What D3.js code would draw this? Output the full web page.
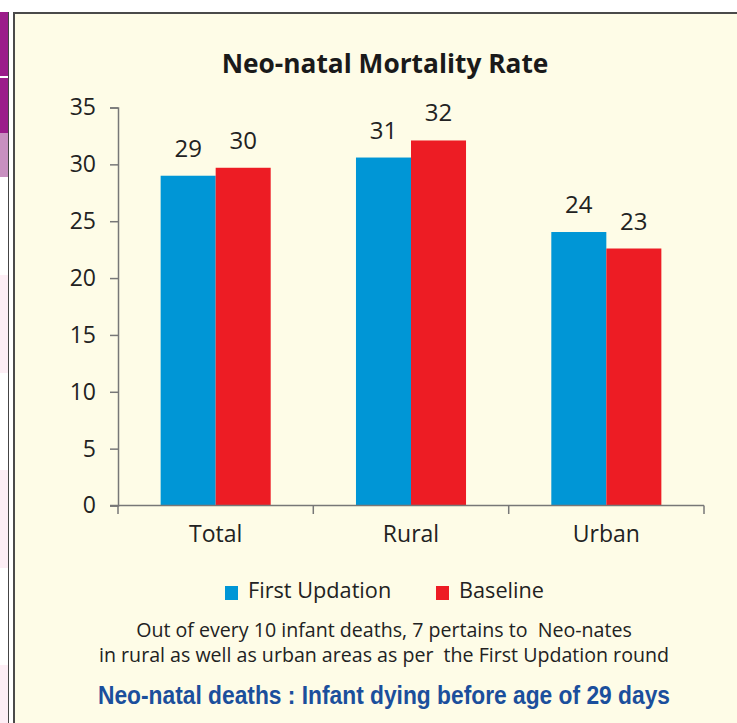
<!DOCTYPE html>
<html lang="en">
<head>
<meta charset="UTF-8">
<title>Neo-natal Mortality Rate</title>
<style>
  body { margin: 0; padding: 0; background: #fff; }
  svg { display: block; }
</style>
</head>
<body>
<svg width="737" height="723"></svg>
<script src="https://d3js.org/d3.v7.min.js"></script>
<script>
  // chart data
  const categories = ["Total", "Rural", "Urban"];
  const seriesNames = ["First Updation", "Baseline"];
  const firstUpdation = [29, 30.6, 24.05];
  const baseline = [29.7, 32.1, 22.6];
  const valueLabels = [[29, 31, 24], [30, 32, 23]];
  const yTicks = [0, 5, 10, 15, 20, 25, 30, 35];
  const colors = ["#0096d6", "#ed1c24"];

  const svg = d3.select("svg");
  const font = "'Open Sans', sans-serif";

  // left page strip, bits of the neighbouring page
  svg.append("rect").attr("x", 0).attr("y", 12).attr("width", 8).attr("height", 121).attr("fill", "#9b1d8a");
  svg.append("rect").attr("x", 0).attr("y", 76).attr("width", 8).attr("height", 2).attr("fill", "#fff");
  svg.append("rect").attr("x", 0).attr("y", 133).attr("width", 8).attr("height", 44).attr("fill", "#c890c0");
  [[275, 98], [470, 98], [665, 58]].forEach(p => {
    svg.append("rect").attr("x", 0).attr("y", p[0]).attr("width", 8).attr("height", p[1]).attr("fill", "#fdeef5");
  });
  svg.append("line").attr("x1", 8.5).attr("x2", 8.5).attr("y1", 12).attr("y2", 723).attr("stroke", "#444").attr("stroke-width", 1);

  // panel
  svg.append("rect").attr("x", 14).attr("y", 13).attr("width", 730).attr("height", 720)
    .attr("fill", "#fefce7").attr("stroke", "#4a4a4a").attr("stroke-width", 2);

  const x0 = d3.scaleBand().domain(categories).range([118, 704]).padding(0);
  const x1 = d3.scaleBand().domain(seriesNames).range([0, x0.bandwidth()]).paddingInner(0).paddingOuter(0.775);
  const y = d3.scaleLinear().domain([0, 35]).range([505.5, 107.5]);

  svg.append("text").attr("x", 385).attr("y", 73).attr("text-anchor", "middle")
    .attr("font-family", font).attr("font-weight", "bold").attr("font-size", 26.3).attr("fill", "#1a1a1a")
    .text("Neo-natal Mortality Rate");

  // y axis
  const yAxis = svg.append("g").attr("transform", "translate(118,0)")
    .call(d3.axisLeft(y).tickValues(yTicks).tickSize(8).tickPadding(14));
  yAxis.select(".domain").attr("stroke", "#777").attr("stroke-width", 1.5);
  yAxis.selectAll(".tick line").attr("stroke", "#777").attr("stroke-width", 1.5);
  yAxis.selectAll("text").attr("font-family", font).attr("font-size", 23).attr("fill", "#222");

  // bars
  const series = [firstUpdation, baseline];
  series.forEach((vals, s) => {
    svg.append("g").selectAll("rect").data(vals).join("rect")
      .attr("x", (d, i) => x0(categories[i]) + x1(seriesNames[s]))
      .attr("y", d => y(d))
      .attr("width", x1.bandwidth())
      .attr("height", d => y(0) - y(d))
      .attr("fill", colors[s]);
    svg.append("g").selectAll("text").data(vals).join("text")
      .attr("x", (d, i) => x0(categories[i]) + x1(seriesNames[s]) + x1.bandwidth() / 2)
      .attr("y", d => y(d) - 19)
      .attr("text-anchor", "middle")
      .attr("font-family", font).attr("font-size", 24).attr("fill", "#222")
      .text((d, i) => valueLabels[s][i]);
  });

  // x axis
  const xAxis = svg.append("g").attr("transform", "translate(0,505.5)")
    .call(d3.axisBottom(x0).tickSize(0).tickPadding(20).tickSizeOuter(0));
  xAxis.select(".domain").attr("stroke", "#777").attr("stroke-width", 1.5).attr("d", "M110,0H704");
  xAxis.selectAll("text").attr("font-family", font).attr("font-size", 23).attr("fill", "#222");
  svg.append("g").selectAll("line").data([118, 313.3, 508.7, 704]).join("line")
    .attr("x1", d => d).attr("x2", d => d).attr("y1", 505.5).attr("y2", 514)
    .attr("stroke", "#777").attr("stroke-width", 1.5);

  // legend
  const legend = svg.append("g");
  const legX = [225, 436];
  seriesNames.forEach((n, i) => {
    legend.append("rect").attr("x", legX[i]).attr("y", 586).attr("width", 13).attr("height", 14).attr("fill", colors[i]);
    legend.append("text").attr("x", legX[i] + 23).attr("y", 598)
      .attr("font-family", font).attr("font-size", 21.7).attr("fill", "#222").text(n);
  });

  // notes
  svg.append("text").attr("x", 384).attr("y", 637).attr("text-anchor", "middle")
    .attr("font-family", font).attr("font-size", 19.6).attr("fill", "#222").attr("xml:space", "preserve")
    .text("Out of every 10 infant deaths, 7 pertains to  Neo-nates");
  svg.append("text").attr("x", 384).attr("y", 662).attr("text-anchor", "middle")
    .attr("font-family", font).attr("font-size", 19.6).attr("fill", "#222").attr("xml:space", "preserve")
    .text("in rural as well as urban areas as per  the First Updation round");
  svg.append("text").attr("x", 384).attr("y", 704).attr("text-anchor", "middle")
    .attr("font-family", "'Liberation Sans Narrow', 'Liberation Sans', sans-serif").attr("font-weight", "bold")
    .attr("font-size", 26).attr("fill", "#1b4f9c")
    .attr("textLength", 572).attr("lengthAdjust", "spacingAndGlyphs")
    .text("Neo-natal deaths : Infant dying before age of 29 days");
</script>
</body>
</html>
